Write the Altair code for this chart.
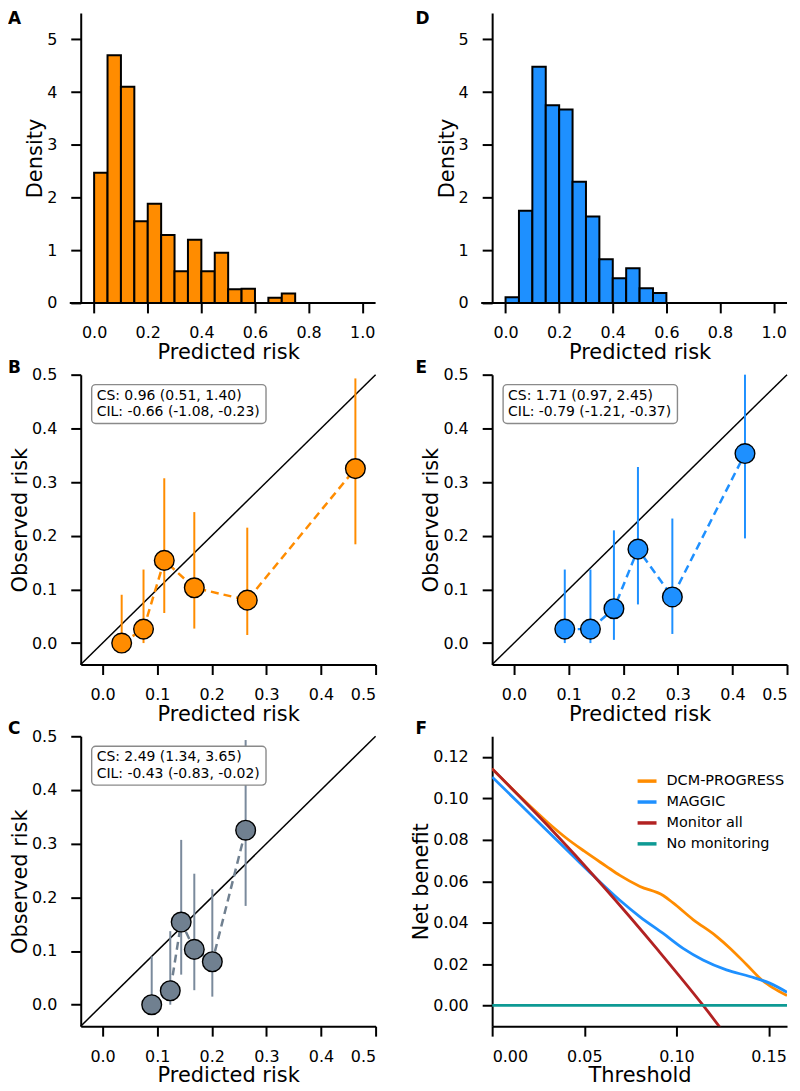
import altair as alt
import pandas as pd

FONT = "DejaVu Sans"
W, H = 296, 291

# ---------------- Histogram data (density per 0.05 bin) ----------------
bin_start = [0.00, 0.05, 0.10, 0.15, 0.20, 0.25, 0.30, 0.35, 0.40, 0.45,
             0.50, 0.55, 0.60, 0.65, 0.70, 0.75, 0.80, 0.85, 0.90, 0.95]
bin_end = [0.05, 0.10, 0.15, 0.20, 0.25, 0.30, 0.35, 0.40, 0.45, 0.50,
           0.55, 0.60, 0.65, 0.70, 0.75, 0.80, 0.85, 0.90, 0.95, 1.00]
dcm_density = [2.47, 4.70, 4.10, 1.55, 1.88, 1.29, 0.60, 1.20, 0.60, 0.95,
               0.26, 0.27, 0.00, 0.10, 0.18, 0.00, 0.00, 0.00, 0.00, 0.00]
maggic_density = [0.11, 1.75, 4.48, 3.75, 3.67, 2.30, 1.64, 0.83, 0.47, 0.66,
                  0.28, 0.19, 0.00, 0.00, 0.00, 0.00, 0.00, 0.00, 0.00, 0.00]
hist_ticks = [0.0, 0.2, 0.4, 0.6, 0.8, 1.0]
density_ticks = [0, 1, 2, 3, 4, 5]

# ---------------- Calibration data ----------------
obs_risk = [0.000, 0.026, 0.154, 0.103, 0.080, 0.325]
obs_lo = [0.000, 0.000, 0.056, 0.027, 0.015, 0.184]
obs_hi = [0.090, 0.137, 0.307, 0.244, 0.215, 0.493]

b_pred = [0.035, 0.075, 0.113, 0.168, 0.265, 0.463]
c_pred = [0.090, 0.124, 0.144, 0.168, 0.201, 0.262]

e_pred = [0.093, 0.140, 0.183, 0.227, 0.290, 0.423]
e_obs = [0.026, 0.026, 0.064, 0.175, 0.086, 0.353]
e_lo = [0.000, 0.000, 0.006, 0.072, 0.017, 0.195]
e_hi = [0.137, 0.137, 0.210, 0.328, 0.232, 0.500]

calib_ticks = [0.0, 0.1, 0.2, 0.3, 0.4, 0.5]
diag_pts = [-0.04, 0.5]

b_text = ["CS: 0.96 (0.51, 1.40)", "CIL: -0.66 (-1.08, -0.23)"]
e_text = ["CS: 1.71 (0.97, 2.45)", "CIL: -0.79 (-1.21, -0.37)"]
c_text = ["CS: 2.49 (1.34, 3.65)", "CIL: -0.43 (-0.83, -0.02)"]

# ---------------- Decision curve data ----------------
dcm_t = [0.0, 0.015, 0.030, 0.040, 0.050, 0.062, 0.0693, 0.0802, 0.0928, 0.0982,
         0.109, 0.1217, 0.1289, 0.138, 0.147, 0.1524, 0.160]
dcm_nb = [0.1143, 0.1010, 0.0885, 0.0810, 0.0745, 0.0672, 0.0628, 0.0575, 0.0531, 0.0495,
          0.0415, 0.0334, 0.0278, 0.0198, 0.0118, 0.0085, 0.0048]
mag_t = [0.0, 0.016, 0.030, 0.045, 0.055, 0.0693, 0.0802, 0.0928, 0.1036, 0.1144,
         0.1271, 0.1398, 0.1506, 0.160]
mag_nb = [0.1103, 0.0965, 0.0842, 0.0712, 0.0626, 0.0508, 0.0428, 0.0348, 0.0276, 0.0220,
          0.0172, 0.0140, 0.0108, 0.0064]
all_t = [0.0, 0.03, 0.06, 0.09, 0.1145, 0.125]
all_nb = [0.1143, 0.0870, 0.0578, 0.0267, 0.0, -0.0122]
none_t = [0.0, 0.16]
none_nb = [0.0, 0.0]
series_names = ["DCM-PROGRESS", "MAGGIC", "Monitor all", "No monitoring"]
series_colors = ["#FF8C00", "#1E90FF", "#B22222", "#0E9A94"]
thr_ticks = [0.0, 0.05, 0.10, 0.15]
nb_ticks = [0.0, 0.02, 0.04, 0.06, 0.08, 0.10, 0.12]

ORANGE = "#FF8C00"
BLUE = "#1E90FF"
SLATE = "#708090"
LSLATE = "#7A8A9C"

one = pd.DataFrame({"a": [0]})


def letter(txt, x, y):
    return alt.Chart(pd.DataFrame({"t": [txt]})).mark_text(
        align="left", baseline="top", fontSize=17, fontWeight="bold",
        font=FONT, color="black").encode(
        x=alt.value(x), y=alt.value(y), text="t:N")


def hist(density, color, lab, lx):
    df = pd.DataFrame({"b0": bin_start, "b1": bin_end, "d": density})
    xs = alt.Scale(domain=[-0.05, 1.05], nice=False, zero=False)
    ys = alt.Scale(domain=[0, 5.5], nice=False)
    bars = alt.Chart(df).mark_rect(fill=color, stroke="black", strokeWidth=2).encode(
        x=alt.X("b0:Q", scale=xs, axis=alt.Axis(values=hist_ticks, format=".1f",
                                                  title="Predicted risk", domain=False)),
        x2="b1:Q",
        y=alt.Y("d:Q", scale=ys, axis=alt.Axis(values=density_ticks, format="d",
                                                 title="Density")),
        y2=alt.datum(0),
    )
    base_line = alt.Chart(one).mark_rule(color="black", strokeWidth=2, clip=False).encode(
        x=alt.value(-11), x2=alt.value(W), y=alt.value(H))
    return alt.layer(bars, base_line, letter(lab, lx, -2)).properties(width=W, height=H)


def calib(pred, obs, lo, hi, color, ci_color, lab, lx, texts):
    df = pd.DataFrame({"x": pred, "y": obs, "lo": lo, "hi": hi})
    sc = alt.Scale(domain=[-0.04, 0.5], nice=False, zero=False)
    X = alt.X("x:Q", scale=sc, axis=alt.Axis(values=calib_ticks, format=".1f", title="Predicted risk"))
    Y = alt.Y("y:Q", scale=sc, axis=alt.Axis(values=calib_ticks, format=".1f", title="Observed risk"))
    diag = alt.Chart(pd.DataFrame({"x": diag_pts, "y": diag_pts})).mark_line(
        color="black", strokeWidth=1.5).encode(x=X, y=Y)
    base = alt.Chart(df)
    ci = base.mark_rule(color=ci_color, strokeWidth=2).encode(
        x=X, y=alt.Y("lo:Q", scale=sc, axis=alt.Axis(values=calib_ticks, format=".1f", title="Observed risk")),
        y2="hi:Q")
    line = base.mark_line(color=color, strokeDash=[8, 5], strokeWidth=2.5).encode(x=X, y=Y)
    pts = base.mark_circle(size=390, fill=color, stroke="black", strokeWidth=1.4,
                           opacity=1, fillOpacity=1).encode(x=X, y=Y)
    box = alt.Chart(one).mark_rect(fill="white", stroke="#8a8a8a", strokeWidth=1.4,
                                   cornerRadius=4).encode(
        x=alt.value(11), x2=alt.value(186), y=alt.value(10), y2=alt.value(49))
    txt = alt.Chart(one).mark_text(align="left", baseline="top", fontSize=14, font=FONT,
                                   color="black", lineBreak="\n", lineHeight=16.5).encode(
        x=alt.value(16), y=alt.value(14), text=alt.value("\n".join(texts)))
    return alt.layer(diag, ci, line, pts, box, txt, letter(lab, lx, -15)).properties(width=W, height=H)


def dca():
    rows = []
    for name, ts, vs in [(series_names[0], dcm_t, dcm_nb), (series_names[1], mag_t, mag_nb),
                         (series_names[2], all_t, all_nb), (series_names[3], none_t, none_nb)]:
        for t, v in zip(ts, vs):
            rows.append({"series": name, "t": t, "nb": v})
    df = pd.DataFrame(rows)
    cscale = alt.Scale(domain=series_names, range=series_colors)
    lines = alt.Chart(df).mark_line(strokeWidth=2.8, clip=True, interpolate="monotone").encode(
        x=alt.X("t:Q", scale=alt.Scale(domain=[0, 0.16], nice=False, zero=False),
                axis=alt.Axis(values=thr_ticks, format=".2f", title="Threshold")),
        y=alt.Y("nb:Q", scale=alt.Scale(domain=[-0.01, 0.13], nice=False, zero=False),
                axis=alt.Axis(values=nb_ticks, format=".2f", title="Net benefit")),
        color=alt.Color("series:N", scale=cscale, legend=None),
    )
    leg_df = pd.DataFrame({"series": series_names})
    ly = alt.Y("series:N", sort=series_names,
               scale=alt.Scale(type="point", domain=series_names, range=[45, 108], padding=0),
               axis=None)
    leg_rule = alt.Chart(leg_df).mark_rule(strokeWidth=3.5).encode(
        x=alt.value(146), x2=alt.value(165), y=ly,
        color=alt.Color("series:N", scale=cscale, legend=None))
    leg_txt = alt.Chart(leg_df).mark_text(align="left", baseline="middle", fontSize=14.5,
                                          font=FONT, color="black").encode(
        x=alt.value(175), y=ly, text="series:N")
    return alt.layer(lines, leg_rule, leg_txt, letter("F", -77, -15)).resolve_scale(
        y="independent").properties(width=W, height=H)


pA = hist(dcm_density, ORANGE, "A", -73)
pD = hist(maggic_density, BLUE, "D", -77)
pB = calib(b_pred, obs_risk, obs_lo, obs_hi, ORANGE, ORANGE, "B", -73, b_text)
pE = calib(e_pred, e_obs, e_lo, e_hi, BLUE, BLUE, "E", -77, e_text)
pC = calib(c_pred, obs_risk, obs_lo, obs_hi, SLATE, LSLATE, "C", -73, c_text)
pF = dca()

chart = alt.concat(pA, pD, pB, pE, pC, pF, columns=2,
                   spacing={"row": 72, "column": 117}, bounds="flush",
                   padding={"left": 0, "top": 0, "right": 2, "bottom": 0}).configure(
    font=FONT
).configure_view(stroke=None).configure_axis(
    domainColor="black", domainWidth=2, tickColor="black", tickWidth=2, tickSize=10,
    labelFont=FONT, labelFontSize=16, labelColor="black",
    titleFont=FONT, titleFontSize=21, titleFontWeight="normal", titleColor="black",
    grid=False
).configure_axisX(labelPadding=12, titlePadding=1).configure_axisY(labelPadding=14, titlePadding=1)

chart.save("out.html", embed_options={"renderer": "svg", "actions": False})
